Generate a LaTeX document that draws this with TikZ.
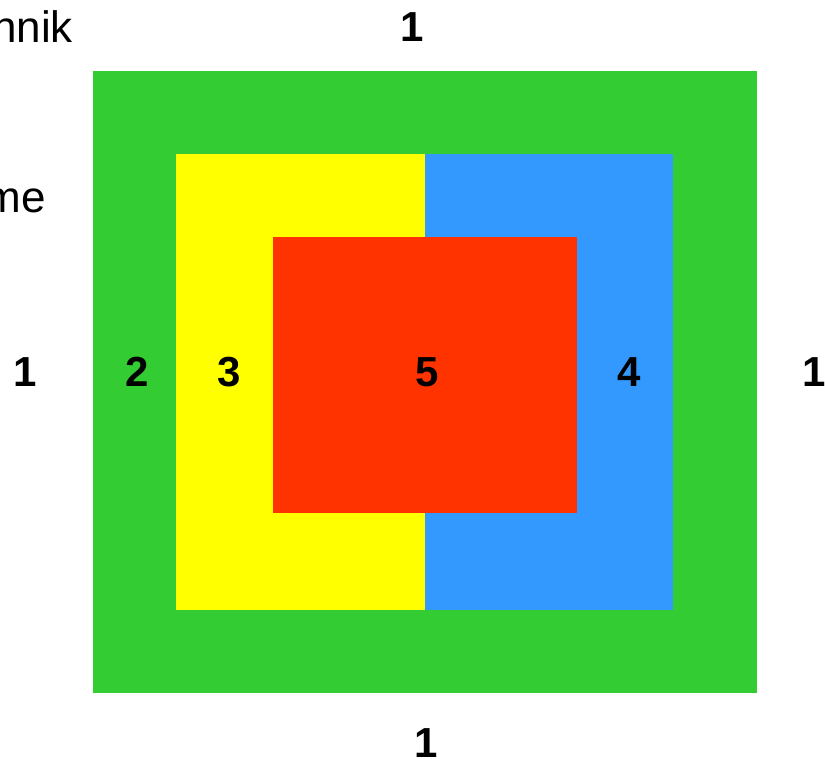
\documentclass[tikz,border=0pt]{standalone}
\usepackage{fontspec}
\setmainfont{Liberation Sans}
\definecolor{fgreen}{RGB}{51,204,51}
\definecolor{fyellow}{RGB}{255,255,0}
\definecolor{fblue}{RGB}{51,153,255}
\definecolor{fred}{RGB}{255,51,0}
\tikzset{zones/.style={x=1pt,y=-1pt},
  num/.style={font=\fontsize{42}{48}\selectfont\bfseries,inner sep=0pt},
  word/.style={font=\fontsize{44}{50}\selectfont,inner sep=0pt}}
\begin{document}
\begin{tikzpicture}[zones]
    \useasboundingbox (0,0) rectangle (825,759);
    \fill[fgreen]  (93,71) rectangle (757,693);    % outer
    \fill[fyellow] (176,154) rectangle (425,610);
    \fill[fblue]   (425,154) rectangle (673,610);
    \fill[fred]    (273,237) rectangle (577,513);  % centre
    \node[word,anchor=east] (tl) at (73,27) {nnik};
    \node[word,anchor=east] (ml) at (46,201) {me};
    \node[num] (top) at (412,27) {1};
    \node[num] (bot) at (426,743) {1};
    \node[num] (left) at (25,372) {1};
    \node[num] (right) at (814,372) {1};
    \node[num] (two) at (137,372) {2};
    \node[num] (three) at (229,372) {3};
    \node[num] (five) at (427,372) {5};
    \node[num] (four) at (629,372) {4};
\end{tikzpicture}
\end{document}
